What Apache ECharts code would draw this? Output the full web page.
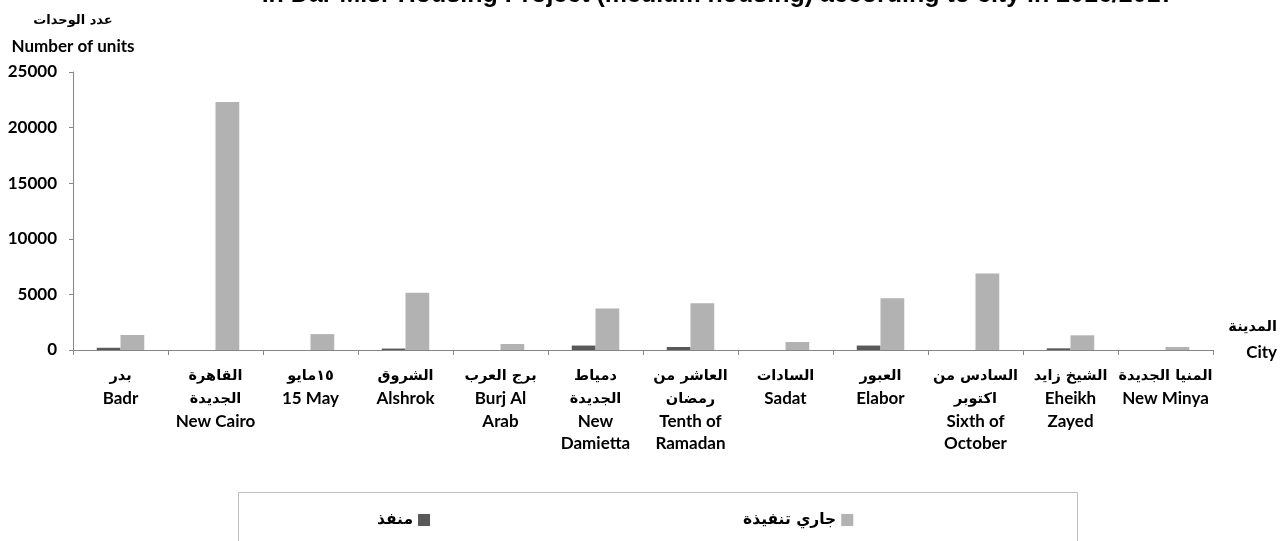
<!DOCTYPE html>
<html>
<head>
<meta charset="utf-8">
<title>Dar Misr Housing Project</title>
<script src="https://cdn.jsdelivr.net/npm/echarts@6/dist/echarts.min.js"></script>
<style>
	html, body { margin: 0; padding: 0; background: #fff; }
	#main { width: 1280px; height: 541px; }
</style>
</head>
<body>
<div id="main"></div>
<script>
	// المدن (عربي + انجليزي)
	var cityAr = ['بدر', 'القاهرة\nالجديدة', '١٥مايو', 'الشروق', 'برج العرب', 'دمياط\nالجديدة', 'العاشر من\nرمضان', 'السادات', 'العبور', 'السادس من\nاكتوبر', 'الشيخ زايد', 'المنيا الجديدة'];
	var cityEn = ['Badr', 'New Cairo', '15 May', 'Alshrok', 'Burj Al\nArab', 'New\nDamietta', 'Tenth of\nRamadan', 'Sadat', 'Elabor', 'Sixth of\nOctober', 'Eheikh\nZayed', 'New Minya'];

	// عدد الوحدات
	var doneUnits = [200, 0, 0, 130, 0, 400, 270, 0, 400, 0, 150, 0];
	var ongoingUnits = [1350, 22300, 1430, 5150, 540, 3740, 4210, 720, 4660, 6870, 1320, 270];
	var seriesNames = ['منفذ', 'جاري تنفيذة'];
	var yTicks = [0, 5000, 10000, 15000, 20000, 25000];

	// كل سطر بستايل خاص (عربي / انجليزي)
	function tagLines(text, tag) {
		return text.split('\n').map(function (s) { return '{' + tag + '|' + s + '}'; }).join('\n');
	}
	var categories = cityAr.map(function (a, i) { return tagLines(a, 'ar') + '\n' + tagLines(cityEn[i], 'en'); });

	var enFont = 'Lato, "DejaVu Sans", sans-serif';
	var arFont = '"DejaVu Sans", sans-serif';
	var axisGray = '#868686';
	var labelRich = {
		ar: { fontFamily: arFont, fontSize: 14.5, fontWeight: 'bold', color: '#000', lineHeight: 22.5 },
		en: { fontFamily: enFont, fontSize: 17, fontWeight: 'bold', color: '#000', lineHeight: 22.5 }
	};

	var myChart = echarts.init(document.getElementById('main'));
	var option = {
		animation: false,
		backgroundColor: '#fff',
		title: {
			text: 'in Dar Misr Housing Project (medium housing) according to city in 2016/2017',
			left: 713,
			textAlign: 'center',
			top: -22,
			textStyle: {
				fontFamily: '"Liberation Sans", Arial, sans-serif',
				fontSize: 25,
				fontWeight: 'bold',
				color: '#000'
			}
		},
		grid: { left: 73, right: 67, top: 72, bottom: 191, containLabel: false },
		legend: {
			data: seriesNames,
			left: 372,
			top: 507,
			align: 'right',
			itemGap: 313,
			itemWidth: 12,
			itemHeight: 12,
			icon: 'rect',
			textStyle: { fontFamily: arFont, fontSize: 15.5, fontWeight: 'bold', color: '#000' }
		},
		graphic: [{
			type: 'rect',
			silent: true,
			shape: { x: 238.5, y: 492.5, width: 839, height: 70 },
			style: { fill: 'none', stroke: '#bfbfbf', lineWidth: 1 }
		}],
		xAxis: {
			type: 'category',
			data: categories,
			name: '{ar|المدينة}\n{en|City}',
			nameLocation: 'end',
			nameGap: 64,
			nameTextStyle: {
				align: 'right', verticalAlign: 'middle', padding: [0, 0, 20, 0],
				rich: {
					ar: { fontFamily: arFont, fontSize: 14.5, fontWeight: 'bold', color: '#000', lineHeight: 25 },
					en: { fontFamily: enFont, fontSize: 17, fontWeight: 'bold', color: '#000', lineHeight: 25 }
				}
			},
			axisLine: { lineStyle: { color: axisGray } },
			axisTick: { show: true, alignWithLabel: false, length: 5, lineStyle: { color: axisGray } },
			axisLabel: {
				interval: 0,
				margin: 15,
				rich: labelRich
			}
		},
		yAxis: {
			type: 'value',
			min: 0,
			max: 25000,
			interval: 5000,
			name: '{ar|عدد الوحدات}\n{en|Number of units}',
			nameLocation: 'end',
			nameGap: 12,
			nameTextStyle: {
				align: 'center',
				rich: {
					ar: { fontFamily: arFont, fontSize: 13, fontWeight: 'bold', color: '#000', lineHeight: 26 },
					en: { fontFamily: enFont, fontSize: 17, fontWeight: 'bold', color: '#000', lineHeight: 26 }
				}
			},
			splitLine: { show: false },
			axisLine: { show: true, lineStyle: { color: axisGray } },
			axisTick: { show: true, length: 4, lineStyle: { color: axisGray } },
			axisLabel: {
				margin: 16,
				fontFamily: enFont,
				fontSize: 17,
				fontWeight: 'bold',
				color: '#000',
				formatter: function (v) { return String(v); },
				customValues: yTicks
			}
		},
		series: [
			{
				name: seriesNames[0],
				type: 'bar',
				data: doneUnits,
				barGap: '0%',
				barCategoryGap: '50%',
				itemStyle: { color: '#595959' }
			},
			{
				name: seriesNames[1],
				type: 'bar',
				data: ongoingUnits,
				barGap: '0%',
				barCategoryGap: '50%',
				itemStyle: { color: '#b2b2b2' }
			}
		]
	};
	//加载图形
	myChart.setOption(option);
</script>
</body>
</html>
